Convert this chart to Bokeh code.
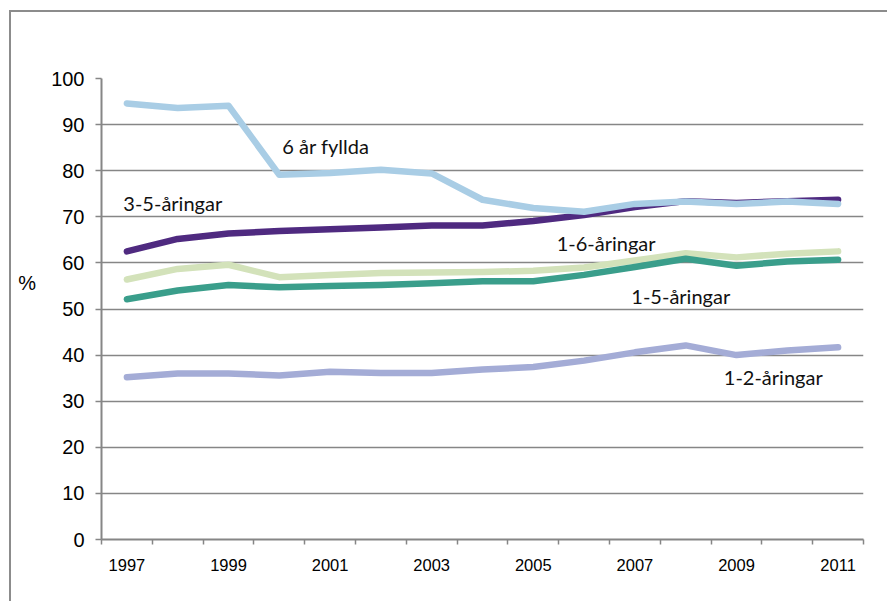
from bokeh.plotting import figure
from bokeh.models import Range1d, FixedTicker, InlineStyleSheet
from bokeh.core.properties import value
from bokeh.embed import file_html
from bokeh.resources import INLINE

years = [1997, 1998, 1999, 2000, 2001, 2002, 2003, 2004, 2005, 2006, 2007, 2008, 2009, 2010, 2011]
sex_ar = [94.6, 93.6, 94.1, 79.1, 79.5, 80.2, 79.4, 73.7, 71.9, 71.1, 72.8, 73.3, 72.8, 73.3, 72.8]
tre_fem = [62.5, 65.2, 66.4, 66.9, 67.3, 67.7, 68.1, 68.1, 69.1, 70.4, 72.1, 73.4, 73.0, 73.4, 73.7]
ett_sex = [56.4, 58.7, 59.6, 56.9, 57.4, 57.8, 57.9, 58.0, 58.3, 59.0, 60.5, 62.1, 61.2, 62.0, 62.5]
ett_fem = [52.1, 54.0, 55.2, 54.7, 55.0, 55.2, 55.6, 56.0, 56.0, 57.4, 59.1, 60.9, 59.4, 60.3, 60.7]
ett_tva = [35.2, 36.0, 36.0, 35.6, 36.4, 36.1, 36.1, 36.9, 37.4, 38.8, 40.6, 42.1, 40.0, 41.0, 41.7]

label_years = [1997, 1999, 2001, 2003, 2005, 2007, 2009, 2011]
y_ticks = [0, 10, 20, 30, 40, 50, 60, 70, 80, 90, 100]

series = [
    (ett_tva, "#a4acd6"),
    (ett_sex, "#d3e2ba"),
    (ett_fem, "#3a9e8b"),
    (tre_fem, "#4f2a80"),
    (sex_ar, "#a9cde5"),
]

series_labels = [
    ("6 år fyllda", 2000.06, 85.4),
    ("3-5-åringar", 1996.93, 72.9),
    ("1-6-åringar", 2005.46, 64.3),
    ("1-5-åringar", 2006.93, 52.9),
    ("1-2-åringar", 2008.75, 35.2),
]

GRAY = "#868686"

p = figure(width=887, height=601, output_backend="svg", toolbar_location=None,
           x_range=Range1d(1996.5, 2011.5), y_range=Range1d(0, 100),
           min_border_left=101, min_border_right=24, min_border_top=78, min_border_bottom=62)
p.outline_line_color = None
p.background_fill_color = "white"
p.border_fill_color = "white"

# outer chart frame (left and top edges visible)
p.stylesheets = [InlineStyleSheet(css=(
    ":host::after { content: ''; position: absolute; left: 9px; top: 10px; "
    "right: 0; bottom: 0; border-left: 2px solid #8c8c8c; border-top: 2px solid #8c8c8c; "
    "pointer-events: none; z-index: 10; }"
))]

# x axis
p.xaxis.ticker = FixedTicker(ticks=label_years,
                             minor_ticks=[y - 0.5 for y in years] + [years[-1] + 0.5])
p.xaxis.major_tick_out = 0
p.xaxis.major_tick_in = 0
p.xaxis.minor_tick_out = 5
p.xaxis.minor_tick_in = 0
p.xaxis.minor_tick_line_color = GRAY
p.xaxis.minor_tick_line_width = 1.5
p.xaxis.axis_line_color = GRAY
p.xaxis.axis_line_width = 2
p.xaxis.major_label_text_font = "Liberation Sans"
p.xaxis.major_label_text_font_size = "16.5px"
p.xaxis.major_label_text_color = "black"
p.xaxis.major_label_standoff = 14

# y axis
p.yaxis.ticker = FixedTicker(ticks=y_ticks)
p.yaxis.minor_tick_line_color = None
p.yaxis.major_tick_out = 6
p.yaxis.major_tick_in = 0
p.yaxis.major_tick_line_color = GRAY
p.yaxis.major_tick_line_width = 1.5
p.yaxis.axis_line_color = GRAY
p.yaxis.axis_line_width = 2
p.yaxis.major_label_text_font = "Liberation Sans"
p.yaxis.major_label_text_font_size = "20px"
p.yaxis.major_label_text_color = "black"
p.yaxis.major_label_standoff = 11
p.yaxis.axis_label = "%\n \n "
p.yaxis.axis_label_orientation = "horizontal"
p.yaxis.axis_label_text_font = "Liberation Sans"
p.yaxis.axis_label_text_font_style = "normal"
p.yaxis.axis_label_text_font_size = "20px"
p.yaxis.axis_label_text_color = "black"
p.yaxis.axis_label_standoff = 12

p.xgrid.grid_line_color = None
p.ygrid.ticker = FixedTicker(ticks=y_ticks)
p.ygrid.grid_line_color = GRAY
p.ygrid.grid_line_width = 1.5

for vals, col in series:
    p.line(years, vals, line_color=col, line_width=6.5, line_cap="round", line_join="round")

for txt, x, y in series_labels:
    p.text(x=[x], y=[y], text=[txt], text_font=value("Lato"), text_font_size="20px",
           text_color="#111111", text_baseline="middle", text_align="left")

open("out.html", "w").write(file_html(p, INLINE))
